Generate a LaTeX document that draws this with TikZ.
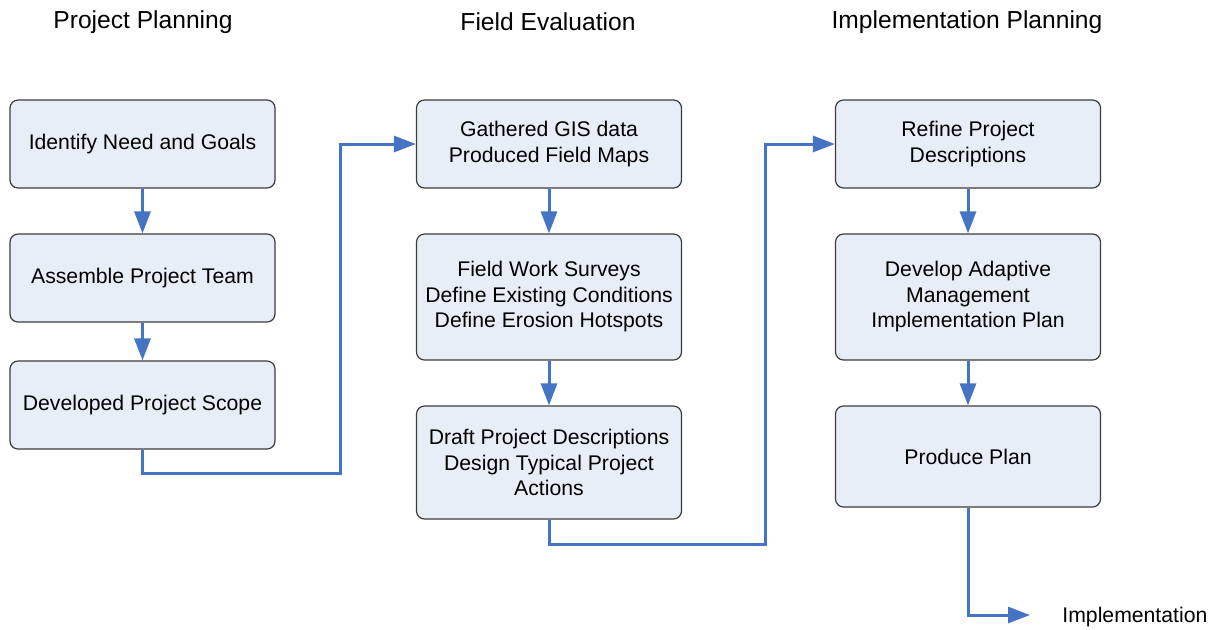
\documentclass[tikz,border=0pt]{standalone}
\usepackage{fontspec}
\setmainfont{Liberation Sans}
\usetikzlibrary{arrows.meta}

\definecolor{flowblue}{RGB}{70,116,196}
\definecolor{boxfill}{RGB}{232,238,248}
\definecolor{boxline}{RGB}{60,60,60}

\tikzset{
    box/.style={draw=boxline, line width=0.6pt, fill=boxfill, rounded corners=4pt,
        minimum width=132.5pt, inner sep=0pt, align=center,
        font=\fontsize{10.6}{12.75}\selectfont},
    flow/.style={draw=flowblue, line width=1.5pt, -{Triangle[length=11pt,width=8pt]}},
    head/.style={font=\fontsize{12.3}{14}\selectfont}
}

\begin{document}
\begin{tikzpicture}[line join=miter, x=0.5pt, y=-0.5pt]

                \useasboundingbox (0,0) rectangle (1214,629);

                \node[head] (h1) at (143,22) {Project Planning};
                \node[head] (h2) at (548,22) {Field Evaluation};
                \node[head] (h3) at (967,22) {Implementation Planning};

                \node[box, minimum height=44pt] (p1) at (142.5,144) {Identify Need and Goals};
                \node[box, minimum height=44pt] (p2) at (142.5,278) {Assemble Project Team};
                \node[box, minimum height=44pt] (p3) at (142.5,405) {Developed Project Scope};

                \node[box, minimum height=44pt] (f1) at (549,144) {Gathered GIS data\\Produced Field Maps};
                \node[box, minimum height=63pt] (f2) at (549,297) {Field Work Surveys\\Define Existing Conditions\\Define Erosion Hotspots};
                \node[box, minimum height=56.5pt] (f3) at (549,462.5) {Draft Project Descriptions\\Design Typical Project\\Actions};

                \node[box, minimum height=44pt] (i1) at (968,144) {Refine Project\\Descriptions};
                \node[box, minimum height=63pt] (i2) at (968,297) {Develop Adaptive\\Management\\Implementation Plan};
                \node[box, minimum height=50.5pt] (i3) at (968,456.5) {Produce Plan};

                \coordinate (j1) at (340,473);
                \coordinate (j2) at (765,544);
                \coordinate (iend) at (1030,615);
                \node[anchor=west, inner sep=0pt, font=\fontsize{10.6}{12.75}\selectfont] (impl) at (1062,617) {Implementation};

                \draw[flow] (p1) -- (p2);
                \draw[flow] (p2) -- (p3);
                \draw[flow] (p3.south) |- (j1) |- (f1.west);

                \draw[flow] (f1) -- (f2);
                \draw[flow] (f2) -- (f3);
                \draw[flow] (f3.south) |- (j2) |- (i1.west);

                \draw[flow] (i1) -- (i2);
                \draw[flow] (i2) -- (i3);
                \draw[flow] (i3.south) |- (iend);

            \end{tikzpicture}
\end{document}
